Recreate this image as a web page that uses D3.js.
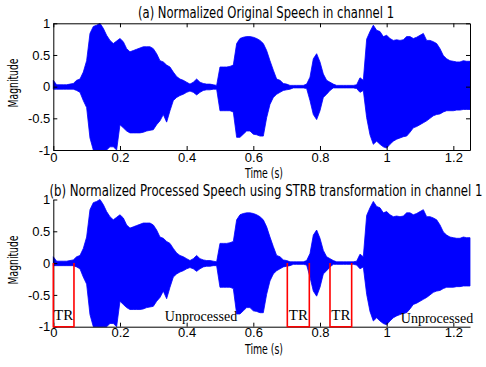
<!DOCTYPE html>
<html><head><meta charset="utf-8">
<script src="https://cdn.jsdelivr.net/npm/d3@7"></script>
<style>body{margin:0;background:#fff}svg{display:block}</style>
</head><body>
<script>
// Time grid (s) of the envelope samples, step 0.01 s
const times = d3.range(0, 126).map(i => +(i * 0.01).toFixed(2));
// Upper envelope of the normalized original speech
const originalUpper = [0.10,0.03,0.03,0.03,0.03,0.04,0.05,0.10,0.12,0.23,
0.41,0.84,0.95,0.97,1.00,0.92,0.81,0.73,0.68,0.72,
0.76,0.71,0.60,0.55,0.57,0.59,0.61,0.63,0.63,0.63,
0.60,0.52,0.41,0.39,0.34,0.31,0.23,0.16,0.12,0.10,
0.07,0.04,0.07,0.12,0.07,0.05,0.04,0.04,0.03,0.02,
0.31,0.31,0.31,0.32,0.34,0.68,0.76,0.78,0.79,0.79,
0.78,0.76,0.73,0.68,0.57,0.41,0.26,0.12,0.10,0.05,
0.04,0.02,0.02,0.02,0.02,0.02,0.04,0.15,0.44,0.52,
0.39,0.20,0.10,0.07,0.04,0.02,0.02,0.02,0.02,0.02,
0.02,0.03,0.14,0.10,0.75,0.87,0.97,0.89,0.87,0.79,
0.81,0.76,0.73,0.74,0.73,0.74,0.79,0.79,0.76,0.78,
0.81,0.84,0.73,0.73,0.71,0.68,0.60,0.49,0.44,0.41,
0.40,0.39,0.39,0.41,0.40,0.40];
// Lower envelope of the normalized original speech
const originalLower = [-0.04,-0.04,-0.04,-0.04,-0.04,-0.04,-0.04,-0.06,-0.09,-0.22,
-0.33,-0.81,-1.00,-1.00,-1.00,-1.00,-1.00,-0.95,-0.95,-1.00,
-0.60,-0.65,-0.70,-0.73,-0.73,-0.73,-0.73,-0.72,-0.70,-0.69,
-0.68,-0.60,-0.54,-0.44,-0.56,-0.38,-0.22,-0.17,-0.14,-0.12,
-0.09,-0.07,-0.09,-0.13,-0.09,-0.06,-0.05,-0.05,-0.04,-0.04,
-0.38,-0.38,-0.38,-0.38,-0.40,-0.80,-0.80,-0.75,-0.70,-0.70,
-0.75,-0.76,-0.78,-0.78,-0.49,-0.28,-0.17,-0.12,-0.09,-0.06,
-0.05,-0.04,-0.02,-0.02,-0.02,-0.02,-0.03,-0.22,-0.44,-0.52,
-0.38,-0.17,-0.12,-0.06,-0.02,-0.02,-0.02,-0.02,-0.02,-0.02,
-0.02,-0.03,-0.09,-0.06,-0.49,-0.76,-0.91,-0.86,-0.91,-0.95,
-0.97,-0.91,-0.86,-0.83,-0.81,-0.79,-0.78,-0.72,-0.65,-0.63,
-0.60,-0.57,-0.54,-0.50,-0.46,-0.44,-0.43,-0.40,-0.38,-0.38,
-0.38,-0.37,-0.37,-0.36,-0.36,-0.36];
// Processed speech (STRB) envelopes
const processedUpper = originalUpper.slice();
const processedLower = originalLower.slice();
// Transition (TR) regions, seconds
const trStart = [0.000, 0.702, 0.830];
const trEnd   = [0.062, 0.768, 0.895];
const xTicks = [0, 0.2, 0.4, 0.6, 0.8, 1, 1.2];
const yTicks = [-1, -0.5, 0, 0.5, 1];
const titleA = "(a) Normalized Original Speech in channel 1";
const titleB = "(b) Normalized Processed Speech using STRB transformation in channel 1";

const W = 486, H = 367;
const svg = d3.select("body").append("svg").attr("width", W).attr("height", H);
const condensed = "'Liberation Sans Narrow','DejaVu Sans Condensed',sans-serif";
const x = d3.scaleLinear().domain([0, 1.25]).range([53.3, 470]);
const yA = d3.scaleLinear().domain([-1, 1]).range([150, 23.3]);
const yB = d3.scaleLinear().domain([-1, 1]).range([326.7, 199.5]);
const fmt = d => String(d);

function wave(y, up, lo) {
  const data = times.map((t, i) => ({t, u: up[i], l: lo[i]}));
  const area = d3.area().x(d => x(d.t)).y0(d => y(d.l)).y1(d => y(d.u));
  svg.append("path").datum(data).attr("d", area)
    .attr("fill", "#0000ff").attr("stroke", "#0000ff").attr("stroke-width", 0.8);
}
function styleAxis(g) {
  g.selectAll("text").attr("font-family", "'Liberation Sans',Arial,sans-serif")
    .attr("font-size", 13).attr("fill", "#000");
  g.selectAll("path,line").attr("stroke", "#000");
}

// Panel (a)
wave(yA, originalUpper, originalLower);
svg.append("g").attr("transform", "translate(0,150)")
  .call(d3.axisBottom(x).tickValues(xTicks).tickFormat(fmt).tickSizeInner(-4).tickSizeOuter(0).tickPadding(3)).call(styleAxis);
svg.append("g").attr("transform", "translate(53.3,0)")
  .call(d3.axisLeft(yA).tickValues(yTicks).tickFormat(fmt).tickSizeInner(-4).tickSizeOuter(0).tickPadding(3)).call(styleAxis);
svg.append("g").attr("transform", "translate(0,23.3)")
  .call(d3.axisTop(x).tickValues(xTicks).tickFormat("").tickSizeInner(-4).tickSizeOuter(0)).call(styleAxis);
svg.append("g").attr("transform", "translate(470,0)")
  .call(d3.axisRight(yA).tickValues(yTicks).tickFormat("").tickSizeInner(-4).tickSizeOuter(0)).call(styleAxis);

// Panel (b)
wave(yB, processedUpper, processedLower);
svg.append("g").attr("transform", "translate(0,326.7)")
  .call(d3.axisBottom(x).tickValues(xTicks).tickFormat(fmt).tickSizeInner(-4).tickSizeOuter(0).tickPadding(1)).call(styleAxis);
svg.append("g").attr("transform", "translate(53.3,0)")
  .call(d3.axisLeft(yB).tickValues(yTicks).tickFormat(fmt).tickSizeInner(-4).tickSizeOuter(0).tickPadding(3)).call(styleAxis);

// TR boxes
trStart.forEach((s, i) => {
  const x0 = x(s), x1 = x(trEnd[i]);
  svg.append("path")
    .attr("d", `M${x0},${yB(0)}V${yB(-1)}H${x1}V${yB(0)}`)
    .attr("fill", "none").attr("stroke", "#ff0000").attr("stroke-width", 1.6);
  svg.append("text").attr("x", (x0 + x1) / 2).attr("y", 319.5).attr("text-anchor", "middle")
    .attr("font-family", "'Liberation Serif','Times New Roman',serif").attr("font-size", 15).text("TR");
});
svg.append("text").attr("x", 201).attr("y", 320.5).attr("text-anchor", "middle")
  .attr("font-family", "'Liberation Serif','Times New Roman',serif").attr("font-size", 14).text("Unprocessed");
svg.append("text").attr("x", 437).attr("y", 323).attr("text-anchor", "middle")
  .attr("font-family", "'Liberation Serif','Times New Roman',serif").attr("font-size", 14).text("Unprocessed");

// Titles & labels (condensed face, stretched vertically)
function ctext(xc, yb, str, size, len, sy) {
  svg.append("text").attr("transform", `translate(${xc},${yb}) scale(1,${sy})`)
    .attr("text-anchor", "middle")
    .attr("font-family", condensed).attr("font-size", size)
    .attr("textLength", len).attr("lengthAdjust", "spacingAndGlyphs").text(str);
}
ctext(266, 18, titleA, 12, 256, 1.3);
ctext(266, 195.5, titleB, 12, 433, 1.3);
ctext(264, 177.5, "Time (s)", 11, 38, 1.2);
ctext(264, 354, "Time (s)", 11, 38, 1.2);
[83, 260].forEach(cy => {
  svg.append("text").attr("transform", `translate(18,${cy}) rotate(-90) scale(1,1.2)`).attr("text-anchor", "middle")
    .attr("font-family", condensed).attr("font-size", 11)
    .attr("textLength", 49).attr("lengthAdjust", "spacingAndGlyphs").text("Magnitude");
});
</script>
</body></html>
